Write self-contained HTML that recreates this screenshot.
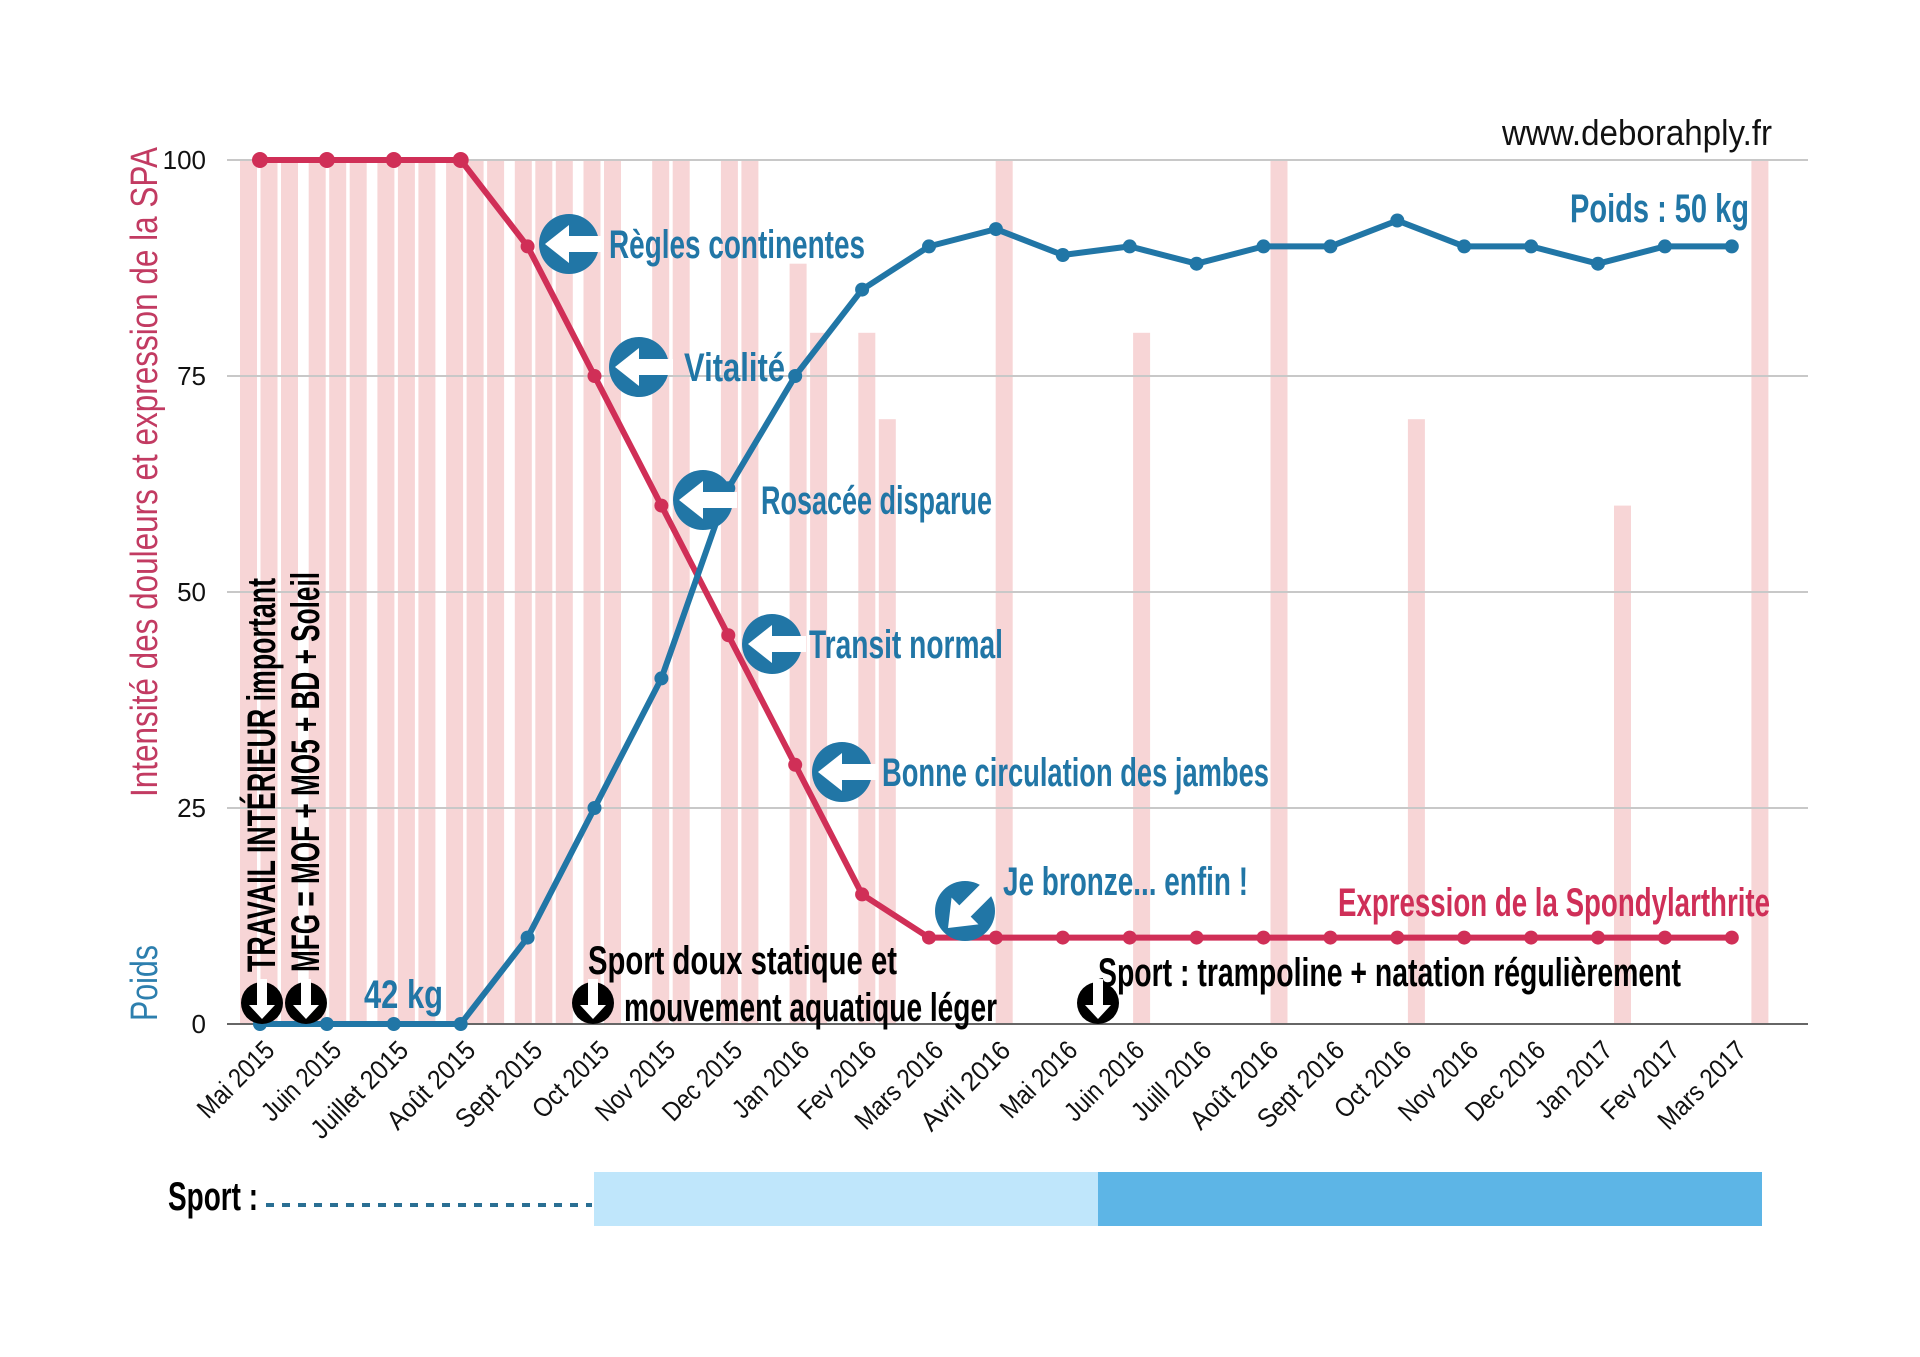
<!DOCTYPE html>
<html><head><meta charset="utf-8"><style>
html,body{margin:0;padding:0;background:#fff;}
svg{display:block;}
text{font-family:"Liberation Sans",sans-serif;}
</style></head><body>
<svg width="1920" height="1357" viewBox="0 0 1920 1357" xmlns="http://www.w3.org/2000/svg">
<defs>
<g id="call">
<circle cx="0" cy="0" r="30" fill="#2176a6"/>
<polygon points="-24,0 0,-19 0,-8 34,-8 34,8 0,8 0,19" fill="#fff"/>
</g>
<g id="blk">
<circle cx="0" cy="0" r="21" fill="#000"/>
<polygon points="0,16 -13,2 -5,2 -5,-24 5,-24 5,2 13,2" fill="#fff"/>
</g>
</defs>
<g fill="#f7d5d6">
<rect x="240" y="160" width="17" height="864"/><rect x="260.5" y="160" width="17" height="864"/><rect x="281" y="160" width="17" height="864"/>
<rect x="308.7" y="160" width="17" height="864"/><rect x="329.2" y="160" width="17" height="864"/><rect x="349.7" y="160" width="17" height="864"/>
<rect x="377.4" y="160" width="17" height="864"/><rect x="397.9" y="160" width="17" height="864"/><rect x="418.4" y="160" width="17" height="864"/>
<rect x="446.1" y="160" width="17" height="864"/><rect x="466.6" y="160" width="17" height="864"/><rect x="487.1" y="160" width="17" height="864"/>
<rect x="514.8" y="160" width="17" height="864"/><rect x="535.3" y="160" width="17" height="864"/><rect x="555.8" y="160" width="17" height="864"/>
<rect x="583.5" y="160" width="17" height="864"/><rect x="604" y="160" width="17" height="864"/>
<rect x="652.2" y="160" width="17" height="864"/><rect x="672.7" y="160" width="17" height="864"/>
<rect x="720.9" y="160" width="17" height="864"/><rect x="741.4" y="160" width="17" height="864"/>
<rect x="789.6" y="263.7" width="17" height="760.3"/><rect x="810.1" y="332.8" width="17" height="691.2"/>
<rect x="858.3" y="332.8" width="17" height="691.2"/><rect x="878.8" y="419.2" width="17" height="604.8"/>
<rect x="995.7" y="160" width="17" height="864"/>
<rect x="1133.1" y="332.8" width="17" height="691.2"/>
<rect x="1270.5" y="160" width="17" height="864"/>
<rect x="1407.9" y="419.2" width="17" height="604.8"/>
<rect x="1614" y="505.6" width="17" height="518.4"/>
<rect x="1751.4" y="160" width="17" height="864"/>
</g>
<g stroke="#c8c8c8" stroke-width="2">
<line x1="227" y1="160" x2="1808" y2="160"/>
<line x1="227" y1="376" x2="1808" y2="376"/>
<line x1="227" y1="592" x2="1808" y2="592"/>
<line x1="227" y1="808" x2="1808" y2="808"/>
</g>
<line x1="227" y1="1024" x2="1808" y2="1024" stroke="#666" stroke-width="2"/>
<g font-size="26" fill="#111" text-anchor="end">
<text x="206" y="169">100</text><text x="206" y="385">75</text><text x="206" y="601">50</text><text x="206" y="817">25</text><text x="206" y="1033">0</text>
</g>
<text transform="translate(157,797) rotate(-90)" font-size="38" fill="#c23b62" textLength="650" lengthAdjust="spacingAndGlyphs">Intensité des douleurs et expression de la SPA</text>
<text transform="translate(157,1021) rotate(-90)" font-size="38" fill="#2d7fae" textLength="76" lengthAdjust="spacingAndGlyphs">Poids</text>
<polyline fill="none" stroke="#d02f57" stroke-width="6" stroke-linejoin="round" points="260,160 326.9,160 393.8,160 460.7,160 527.6,246.4 594.5,376 661.4,505.6 728.3,635.2 795.2,764.8 862.1,894.4 929,937.6 995.9,937.6 1062.8,937.6 1129.7,937.6 1196.6,937.6 1263.5,937.6 1330.4,937.6 1397.3,937.6 1464.2,937.6 1531.1,937.6 1598,937.6 1664.9,937.6 1731.8,937.6"/>
<g fill="#d02f57">
<circle cx="260" cy="160" r="8"/><circle cx="326.9" cy="160" r="8"/><circle cx="393.8" cy="160" r="8"/><circle cx="460.7" cy="160" r="8"/><circle cx="527.6" cy="246.4" r="7"/><circle cx="594.5" cy="376" r="7"/><circle cx="661.4" cy="505.6" r="7"/><circle cx="728.3" cy="635.2" r="7"/><circle cx="795.2" cy="764.8" r="7"/><circle cx="862.1" cy="894.4" r="7"/><circle cx="929" cy="937.6" r="7"/><circle cx="995.9" cy="937.6" r="7"/><circle cx="1062.8" cy="937.6" r="7"/><circle cx="1129.7" cy="937.6" r="7"/><circle cx="1196.6" cy="937.6" r="7"/><circle cx="1263.5" cy="937.6" r="7"/><circle cx="1330.4" cy="937.6" r="7"/><circle cx="1397.3" cy="937.6" r="7"/><circle cx="1464.2" cy="937.6" r="7"/><circle cx="1531.1" cy="937.6" r="7"/><circle cx="1598" cy="937.6" r="7"/><circle cx="1664.9" cy="937.6" r="7"/><circle cx="1731.8" cy="937.6" r="7"/>
</g>
<polyline fill="none" stroke="#2176a6" stroke-width="6" stroke-linejoin="round" points="260,1024 326.9,1024 393.8,1024 460.7,1024 527.6,937.6 594.5,808 661.4,678.4 728.3,488.3 795.2,376 862.1,289.6 929,246.4 995.9,229.1 1062.8,255 1129.7,246.4 1196.6,263.7 1263.5,246.4 1330.4,246.4 1397.3,220.5 1464.2,246.4 1531.1,246.4 1598,263.7 1664.9,246.4 1731.8,246.4"/>
<g fill="#2176a6">
<circle cx="260" cy="1024" r="7"/><circle cx="326.9" cy="1024" r="7"/><circle cx="393.8" cy="1024" r="7"/><circle cx="460.7" cy="1024" r="7"/><circle cx="527.6" cy="937.6" r="7"/><circle cx="594.5" cy="808" r="7"/><circle cx="661.4" cy="678.4" r="7"/><circle cx="728.3" cy="488.3" r="7"/><circle cx="795.2" cy="376" r="7"/><circle cx="862.1" cy="289.6" r="7"/><circle cx="929" cy="246.4" r="7"/><circle cx="995.9" cy="229.1" r="7"/><circle cx="1062.8" cy="255" r="7"/><circle cx="1129.7" cy="246.4" r="7"/><circle cx="1196.6" cy="263.7" r="7"/><circle cx="1263.5" cy="246.4" r="7"/><circle cx="1330.4" cy="246.4" r="7"/><circle cx="1397.3" cy="220.5" r="7"/><circle cx="1464.2" cy="246.4" r="7"/><circle cx="1531.1" cy="246.4" r="7"/><circle cx="1598" cy="263.7" r="7"/><circle cx="1664.9" cy="246.4" r="7"/><circle cx="1731.8" cy="246.4" r="7"/>
</g>
<use href="#call" transform="translate(569,244)"/>
<use href="#call" transform="translate(639,367)"/>
<use href="#call" transform="translate(703,500)"/>
<use href="#call" transform="translate(772,644)"/>
<use href="#call" transform="translate(842,772)"/>
<use href="#call" transform="translate(965,911) rotate(-45)"/>
<g font-size="40" font-weight="bold" fill="#2176a6">
<text x="609" y="258" textLength="256" lengthAdjust="spacingAndGlyphs">Règles continentes</text>
<text x="684" y="381" textLength="101" lengthAdjust="spacingAndGlyphs">Vitalité</text>
<text x="761" y="514" textLength="231" lengthAdjust="spacingAndGlyphs">Rosacée disparue</text>
<text x="809" y="658" textLength="194" lengthAdjust="spacingAndGlyphs">Transit normal</text>
<text x="882" y="786" textLength="387" lengthAdjust="spacingAndGlyphs">Bonne circulation des jambes</text>
<text x="1003" y="895" textLength="245" lengthAdjust="spacingAndGlyphs">Je bronze... enfin !</text>
<text x="1570" y="222" textLength="179" lengthAdjust="spacingAndGlyphs">Poids  : 50 kg</text>
<text x="364" y="1008" textLength="79" lengthAdjust="spacingAndGlyphs">42 kg</text>
</g>
<text x="1338" y="916" font-size="40" font-weight="bold" fill="#cf2f58" textLength="432" lengthAdjust="spacingAndGlyphs">Expression de la Spondylarthrite</text>
<text x="1502" y="145" font-size="36" fill="#111" textLength="270" lengthAdjust="spacingAndGlyphs">www.deborahply.fr</text>
<g font-size="40" font-weight="bold" fill="#000">
<text x="588" y="974" textLength="309" lengthAdjust="spacingAndGlyphs">Sport doux statique  et</text>
<text x="624" y="1021" textLength="373" lengthAdjust="spacingAndGlyphs">mouvement aquatique léger</text>
<text x="1098" y="986" textLength="583" lengthAdjust="spacingAndGlyphs">Sport : trampoline + natation régulièrement</text>
<text transform="translate(275,972) rotate(-90)" textLength="394" lengthAdjust="spacingAndGlyphs">TRAVAIL INTÉRIEUR important</text>
<text transform="translate(319,972) rotate(-90)" textLength="400" lengthAdjust="spacingAndGlyphs">MFG = MOF + MO5 + BD + Soleil</text>
</g>
<use href="#blk" transform="translate(262,1003)"/>
<use href="#blk" transform="translate(306,1003)"/>
<use href="#blk" transform="translate(593,1003)"/>
<use href="#blk" transform="translate(1098,1003)"/>
<g font-size="27" fill="#111" text-anchor="end">
<text transform="translate(276,1052) rotate(-45)" textLength="96" lengthAdjust="spacingAndGlyphs">Mai 2015</text>
<text transform="translate(343,1052) rotate(-45)" textLength="100" lengthAdjust="spacingAndGlyphs">Juin 2015</text>
<text transform="translate(410,1052) rotate(-45)" textLength="125" lengthAdjust="spacingAndGlyphs">Juillet 2015</text>
<text transform="translate(477,1052) rotate(-45)" textLength="112" lengthAdjust="spacingAndGlyphs">Août 2015</text>
<text transform="translate(544,1052) rotate(-45)" textLength="110" lengthAdjust="spacingAndGlyphs">Sept 2015</text>
<text transform="translate(611,1052) rotate(-45)" textLength="96" lengthAdjust="spacingAndGlyphs">Oct 2015</text>
<text transform="translate(677,1052) rotate(-45)" textLength="100" lengthAdjust="spacingAndGlyphs">Nov 2015</text>
<text transform="translate(744,1052) rotate(-45)" textLength="100" lengthAdjust="spacingAndGlyphs">Dec 2015</text>
<text transform="translate(811,1052) rotate(-45)" textLength="96" lengthAdjust="spacingAndGlyphs">Jan 2016</text>
<text transform="translate(878,1052) rotate(-45)" textLength="98" lengthAdjust="spacingAndGlyphs">Fev 2016</text>
<text transform="translate(945,1052) rotate(-45)" textLength="112" lengthAdjust="spacingAndGlyphs">Mars 2016</text>
<text transform="translate(1012,1052) rotate(-45)" textLength="114" lengthAdjust="spacingAndGlyphs">Avril 2016</text>
<text transform="translate(1079,1052) rotate(-45)" textLength="96" lengthAdjust="spacingAndGlyphs">Mai 2016</text>
<text transform="translate(1146,1052) rotate(-45)" textLength="100" lengthAdjust="spacingAndGlyphs">Juin 2016</text>
<text transform="translate(1213,1052) rotate(-45)" textLength="100" lengthAdjust="spacingAndGlyphs">Juill 2016</text>
<text transform="translate(1280,1052) rotate(-45)" textLength="112" lengthAdjust="spacingAndGlyphs">Août 2016</text>
<text transform="translate(1346,1052) rotate(-45)" textLength="110" lengthAdjust="spacingAndGlyphs">Sept 2016</text>
<text transform="translate(1413,1052) rotate(-45)" textLength="96" lengthAdjust="spacingAndGlyphs">Oct 2016</text>
<text transform="translate(1480,1052) rotate(-45)" textLength="100" lengthAdjust="spacingAndGlyphs">Nov 2016</text>
<text transform="translate(1547,1052) rotate(-45)" textLength="100" lengthAdjust="spacingAndGlyphs">Dec 2016</text>
<text transform="translate(1614,1052) rotate(-45)" textLength="96" lengthAdjust="spacingAndGlyphs">Jan 2017</text>
<text transform="translate(1681,1052) rotate(-45)" textLength="98" lengthAdjust="spacingAndGlyphs">Fev 2017</text>
<text transform="translate(1748,1052) rotate(-45)" textLength="112" lengthAdjust="spacingAndGlyphs">Mars 2017</text>
</g>
<text x="168" y="1210" font-size="40" font-weight="bold" fill="#000" textLength="90" lengthAdjust="spacingAndGlyphs">Sport :</text>
<line x1="266" y1="1205" x2="592" y2="1205" stroke="#2a6f93" stroke-width="4" stroke-dasharray="8,8"/>
<rect x="594" y="1172" width="504" height="54" fill="#bfe6fb"/>
<rect x="1098" y="1172" width="664" height="54" fill="#5db5e6"/>
</svg>
</body></html>
